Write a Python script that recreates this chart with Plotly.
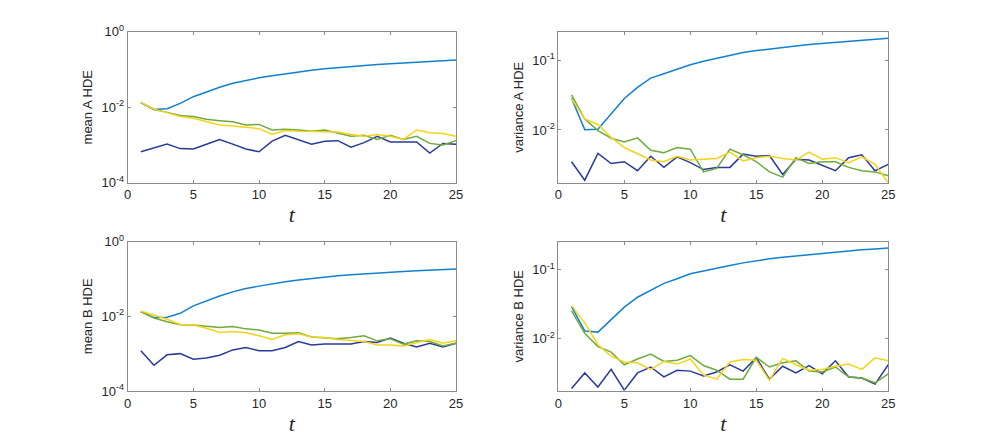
import plotly.graph_objects as go
from plotly.subplots import make_subplots

t = list(range(1, 26))

# mean A HDE
mean_a_light = [0.0132, 0.0087, 0.0091, 0.0126, 0.019, 0.026, 0.034, 0.043, 0.051, 0.060,
                0.068, 0.077, 0.085, 0.095, 0.105, 0.113, 0.121, 0.128, 0.136, 0.142,
                0.151, 0.158, 0.164, 0.171, 0.178]
mean_a_green = [0.0132, 0.0087, 0.0073, 0.0060, 0.0057, 0.0048, 0.0044, 0.0041, 0.0034, 0.0035,
                0.0025, 0.0026, 0.0025, 0.0023, 0.0025, 0.0021, 0.0017, 0.0018, 0.0014, 0.0018,
                0.0014, 0.0017, 0.0011, 0.0010, 0.0013]
mean_a_yellow = [0.0134, 0.0089, 0.0072, 0.0057, 0.0051, 0.0041, 0.0034, 0.0032, 0.0029, 0.0027,
                 0.0019, 0.0024, 0.0023, 0.0023, 0.0023, 0.0022, 0.0019, 0.0017, 0.0019, 0.0017,
                 0.0014, 0.0025, 0.0021, 0.0020, 0.0017]
mean_a_dark = [0.00066, 0.00085, 0.00105, 0.00080, 0.00078, 0.00104, 0.0014, 0.00105, 0.00078, 0.00066,
               0.00126, 0.0018, 0.00138, 0.00105, 0.00126, 0.0013, 0.00087, 0.00115, 0.0017, 0.0012,
               0.0012, 0.0012, 0.00061, 0.0011, 0.00105]

# variance A HDE
var_a_light = [0.0286, 0.0101, 0.0102, 0.0170, 0.0283, 0.0408, 0.0556, 0.0642, 0.075, 0.0866,
               0.097, 0.107, 0.118, 0.129, 0.138, 0.146, 0.154, 0.161, 0.168, 0.174,
               0.182, 0.188, 0.194, 0.201, 0.208]
var_a_green = [0.032, 0.0143, 0.0098, 0.0076, 0.0067, 0.0077, 0.0051, 0.0047, 0.0056, 0.0053,
               0.0025, 0.0028, 0.0053, 0.0044, 0.0035, 0.0025, 0.0021, 0.0040, 0.0033, 0.0035,
               0.0035, 0.0029, 0.0026, 0.0025, 0.0022]
var_a_yellow = [0.028, 0.0144, 0.012, 0.0078, 0.0056, 0.0046, 0.0037, 0.0035, 0.0042, 0.0037,
                0.0038, 0.0039, 0.0048, 0.0036, 0.0040, 0.0042, 0.0039, 0.0037, 0.0048, 0.0038,
                0.0040, 0.0034, 0.0041, 0.0032, 0.00174]
var_a_dark = [0.0035, 0.0019, 0.0046, 0.0033, 0.0035, 0.0026, 0.0042, 0.0029, 0.0041, 0.0034,
              0.0027, 0.0029, 0.0029, 0.0045, 0.0042, 0.0043, 0.0023, 0.0038, 0.0037, 0.0031,
              0.0026, 0.0040, 0.0044, 0.0026, 0.0032]

# mean B HDE
mean_b_light = [0.0133, 0.0092, 0.0094, 0.012, 0.019, 0.026, 0.035, 0.045, 0.055, 0.064,
                0.074, 0.084, 0.093, 0.103, 0.112, 0.121, 0.129, 0.137, 0.146, 0.152,
                0.158, 0.165, 0.172, 0.179, 0.183]
mean_b_green = [0.0133, 0.0090, 0.0071, 0.0059, 0.0058, 0.0055, 0.0050, 0.0053, 0.0046, 0.0043,
                0.0035, 0.0035, 0.0036, 0.0028, 0.0027, 0.0025, 0.0027, 0.0030, 0.0022, 0.0025,
                0.0018, 0.0022, 0.0021, 0.0016, 0.0019]
mean_b_yellow = [0.0139, 0.0106, 0.0083, 0.0060, 0.0058, 0.0048, 0.0037, 0.0039, 0.0036, 0.0030,
                 0.0024, 0.0032, 0.0034, 0.0028, 0.0027, 0.0024, 0.0022, 0.0021, 0.0017, 0.0017,
                 0.0016, 0.0020, 0.0024, 0.0019, 0.0022]
mean_b_dark = [0.0012, 0.00049, 0.00093, 0.0010, 0.00071, 0.00076, 0.00091, 0.00126, 0.00146, 0.0012,
               0.0012, 0.00146, 0.0021, 0.0017, 0.0018, 0.0018, 0.0018, 0.0021, 0.0020, 0.0026,
               0.0019, 0.0015, 0.0019, 0.0015, 0.0019]

# variance B HDE
var_b_light = [0.0292, 0.013, 0.0125, 0.019, 0.0287, 0.040, 0.050, 0.0636, 0.074, 0.0876,
               0.0957, 0.104, 0.115, 0.126, 0.136, 0.144, 0.152, 0.159, 0.166, 0.172,
               0.180, 0.188, 0.195, 0.201, 0.207]
var_b_green = [0.0253, 0.012, 0.0077, 0.0064, 0.0042, 0.0051, 0.0060, 0.0047, 0.0049, 0.0057,
               0.0041, 0.0035, 0.0026, 0.0026, 0.0054, 0.0039, 0.0045, 0.0048, 0.0034, 0.0033,
               0.0039, 0.0028, 0.0027, 0.0023, 0.0031]
var_b_yellow = [0.0302, 0.017, 0.0082, 0.0056, 0.0046, 0.0045, 0.0036, 0.0047, 0.0043, 0.0051,
                0.0030, 0.0026, 0.0046, 0.0050, 0.0049, 0.0025, 0.0052, 0.0042, 0.0035, 0.0036,
                0.0040, 0.0043, 0.0036, 0.0053, 0.0048]
var_b_dark = [0.0019, 0.0032, 0.0020, 0.0036, 0.0018, 0.0032, 0.0039, 0.0028, 0.0035, 0.0034,
              0.0029, 0.0033, 0.0042, 0.0034, 0.0053, 0.0026, 0.0040, 0.0032, 0.0041, 0.0031,
              0.0048, 0.0028, 0.0027, 0.0022, 0.0042]

panel_titles = ['mean A HDE', 'variance A HDE', 'mean B HDE', 'variance B HDE']
mean_ticks = [1, 0.01, 0.0001]
mean_ticktext = ['10<sup>0</sup>', '10<sup>-2</sup>', '10<sup>-4</sup>']
var_ticks = [0.1, 0.01]
var_ticktext = ['10<sup>-1</sup>', '10<sup>-2</sup>']
x_ticks = [0, 5, 10, 15, 20, 25]

colors = ['#2a3a9a', '#1280d0', '#6eab3b', '#f5d31a']

panels = [
    (1, 1, [mean_a_dark, mean_a_light, mean_a_green, mean_a_yellow]),
    (1, 2, [var_a_dark, var_a_light, var_a_green, var_a_yellow]),
    (2, 1, [mean_b_dark, mean_b_light, mean_b_green, mean_b_yellow]),
    (2, 2, [var_b_dark, var_b_light, var_b_green, var_b_yellow]),
]

fig = make_subplots(rows=2, cols=2)

for r, c, series in panels:
    for ys, color in zip(series, colors):
        fig.add_trace(go.Scatter(x=t, y=ys, mode='lines',
                                 line=dict(color=color, width=1.5),
                                 showlegend=False), r, c)

axis_style = dict(showgrid=False, zeroline=False, showline=True, linecolor='#8c8c8c',
                  linewidth=1, mirror='ticks', ticks='inside', ticklen=3, automargin=False,
                  tickcolor='#8c8c8c', tickfont=dict(family='Liberation Sans', size=13, color='#262626'))

# the page body has an 8px margin, so the domains are shifted by that much
x_domains = {1: [0.122, 0.4567], 2: [0.561, 0.8973]}
y_domains = {1: [0.603, 0.946], 2: [0.1295, 0.4693]}

for i, (r, c, _) in enumerate(panels):
    fig.update_xaxes(range=[0, 25], tickvals=x_ticks, domain=x_domains[c],
                     title=dict(text='<i>t</i>', font=dict(family='Liberation Serif', size=22, color='#262626'),
                                standoff=5),
                     row=r, col=c, **axis_style)
    if c == 1:
        fig.update_yaxes(type='log', range=[-4, 0], tickvals=mean_ticks,
                         ticktext=mean_ticktext, domain=y_domains[r], row=r, col=c, **axis_style)
    else:
        fig.update_yaxes(type='log', range=[-2.757, -0.59], tickvals=var_ticks,
                         ticktext=var_ticktext, domain=y_domains[r], row=r, col=c, **axis_style)
    fig.update_yaxes(title=dict(text=panel_titles[i], font=dict(family='Liberation Sans', size=13, color='#262626'),
                                standoff=5), row=r, col=c)

fig.update_layout(width=981, height=440, margin=dict(l=0, r=0, t=0, b=0),
                  plot_bgcolor='white', paper_bgcolor='white')

fig.write_html('out.html')
